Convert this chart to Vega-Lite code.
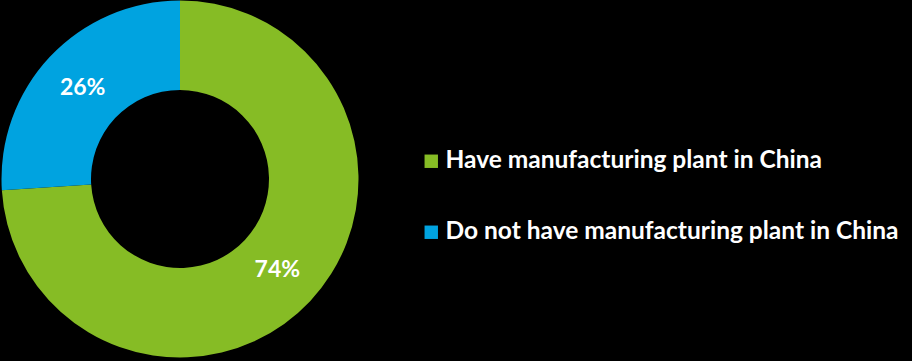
{
  "$schema": "https://vega.github.io/schema/vega-lite/v6.json",
  "width": 360,
  "height": 358,
  "autosize": {"type": "none"},
  "padding": {"left": 0, "top": 0, "right": 552, "bottom": 3},
  "background": "#000000",
  "config": {"view": {"stroke": null}},
  "data": {
    "values": [
      {"category": "Have manufacturing plant in China", "value": 74, "label": "74%", "order": 1},
      {"category": "Do not have manufacturing plant in China", "value": 26, "label": "26%", "order": 2}
    ]
  },
  "encoding": {
    "theta": {"field": "value", "type": "quantitative", "stack": true},
    "order": {"field": "order", "type": "quantitative"}
  },
  "layer": [
    {
      "mark": {"type": "arc", "outerRadius": 178.5, "innerRadius": 89},
      "encoding": {
        "color": {
          "field": "category",
          "type": "nominal",
          "scale": {
            "domain": ["Have manufacturing plant in China", "Do not have manufacturing plant in China"],
            "range": ["#86BC25", "#00A3E0"]
          },
          "legend": {
            "title": null,
            "orient": "none",
            "legendX": 419,
            "legendY": 149,
            "symbolType": "square",
            "symbolSize": 180,
            "symbolStrokeWidth": 0,
            "labelFont": "Lato",
            "labelFontWeight": "bold",
            "labelFontSize": 24.5,
            "labelColor": "#ffffff",
            "labelOffset": 2,
            "labelLimit": 600,
            "rowPadding": 46
          }
        }
      }
    },
    {
      "mark": {"type": "text", "radius": 133.5, "font": "Lato", "fontWeight": "bold", "fontSize": 23, "color": "#ffffff"},
      "encoding": {"text": {"field": "label", "type": "nominal"}}
    }
  ]
}
